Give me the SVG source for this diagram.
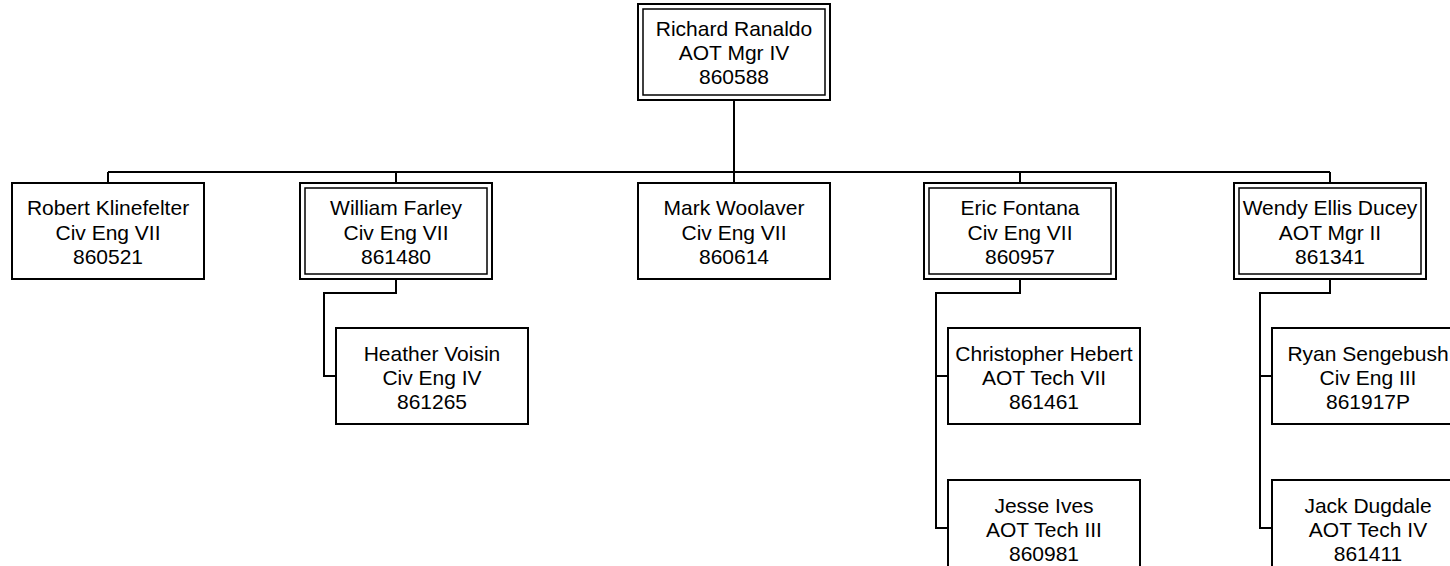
<svg xmlns="http://www.w3.org/2000/svg" width="1450" height="566" viewBox="0 0 1450 566">
<style>
.box{fill:#fff;stroke:#000;stroke-width:2}
.inner{fill:none;stroke:#000;stroke-width:1.5}
.conn{fill:none;stroke:#000;stroke-width:2}
text{font-family:"Liberation Sans",Arial,sans-serif;font-size:21px;fill:#000;text-anchor:middle}
</style>
<rect width="1450" height="566" fill="#fff"/>
<g id="connectors">
<path class="conn" d="M734,100 V172 M108,172 H1330 M108,172 V183 M396,172 V183 M734,172 V183 M1020,172 V183 M1330,172 V183"/>
<path class="conn" d="M396,279 V293 H324 V376 H336"/>
<path class="conn" d="M1020,279 V293 H936 V528 H948 M936,376 H948"/>
<path class="conn" d="M1330,279 V293 H1260 V528 H1272 M1260,376 H1272"/>
</g>
<g id="richard">
<rect class="box" x="638" y="4" width="192" height="96"/>
<rect class="inner" x="643" y="9" width="182" height="86"/>
<text x="734" y="36">Richard Ranaldo</text>
<text x="734" y="60">AOT Mgr IV</text>
<text x="734" y="84">860588</text>
</g>
<g id="robert">
<rect class="box" x="12" y="183" width="192" height="96"/>
<text x="108" y="215">Robert Klinefelter</text>
<text x="108" y="240">Civ Eng VII</text>
<text x="108" y="264">860521</text>
</g>
<g id="william">
<rect class="box" x="300" y="183" width="192" height="96"/>
<rect class="inner" x="305" y="188" width="182" height="86"/>
<text x="396" y="215">William Farley</text>
<text x="396" y="240">Civ Eng VII</text>
<text x="396" y="264">861480</text>
</g>
<g id="mark">
<rect class="box" x="638" y="183" width="192" height="96"/>
<text x="734" y="215">Mark Woolaver</text>
<text x="734" y="240">Civ Eng VII</text>
<text x="734" y="264">860614</text>
</g>
<g id="eric">
<rect class="box" x="924" y="183" width="192" height="96"/>
<rect class="inner" x="929" y="188" width="182" height="86"/>
<text x="1020" y="215">Eric Fontana</text>
<text x="1020" y="240">Civ Eng VII</text>
<text x="1020" y="264">860957</text>
</g>
<g id="wendy">
<rect class="box" x="1234" y="183" width="192" height="96"/>
<rect class="inner" x="1239" y="188" width="182" height="86"/>
<text x="1330" y="215">Wendy Ellis Ducey</text>
<text x="1330" y="240">AOT Mgr II</text>
<text x="1330" y="264">861341</text>
</g>
<g id="heather">
<rect class="box" x="336" y="328" width="192" height="96"/>
<text x="432" y="361">Heather Voisin</text>
<text x="432" y="385">Civ Eng IV</text>
<text x="432" y="409">861265</text>
</g>
<g id="christopher">
<rect class="box" x="948" y="328" width="192" height="96"/>
<text x="1044" y="361">Christopher Hebert</text>
<text x="1044" y="385">AOT Tech VII</text>
<text x="1044" y="409">861461</text>
</g>
<g id="jesse">
<rect class="box" x="948" y="480" width="192" height="96"/>
<text x="1044" y="513">Jesse Ives</text>
<text x="1044" y="537">AOT Tech III</text>
<text x="1044" y="561">860981</text>
</g>
<g id="ryan">
<rect class="box" x="1272" y="328" width="192" height="96"/>
<text x="1368" y="361">Ryan Sengebush</text>
<text x="1368" y="385">Civ Eng III</text>
<text x="1368" y="409">861917P</text>
</g>
<g id="jack">
<rect class="box" x="1272" y="480" width="192" height="96"/>
<text x="1368" y="513">Jack Dugdale</text>
<text x="1368" y="537">AOT Tech IV</text>
<text x="1368" y="561">861411</text>
</g>
</svg>
